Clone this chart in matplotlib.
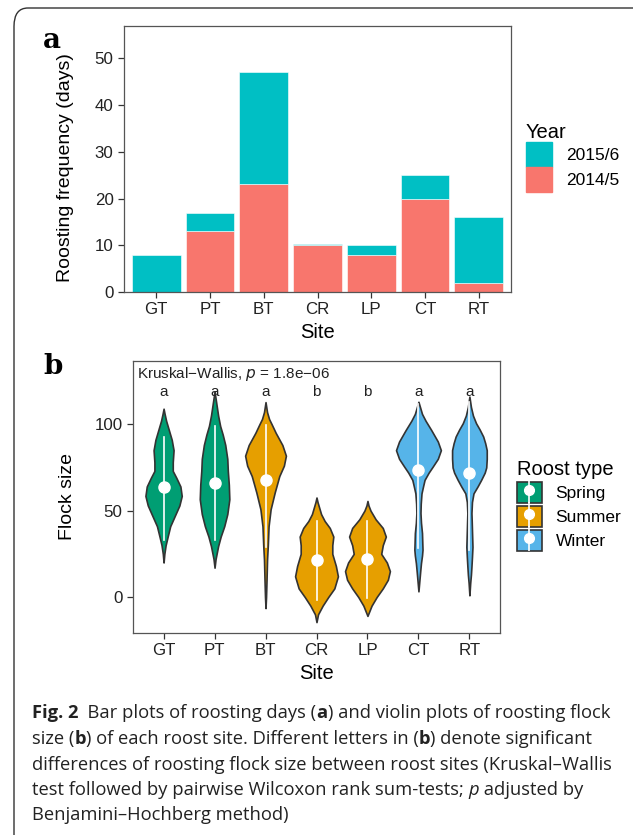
import matplotlib
matplotlib.use('Agg')
import matplotlib.pyplot as plt
from matplotlib.patches import FancyBboxPatch, Patch
from matplotlib.lines import Line2D
from matplotlib.legend_handler import HandlerTuple

plt.rcParams['font.family'] = ['Liberation Sans', 'DejaVu Sans']

# ---- panel a data: roosting days per site ----
sites = ['GT', 'PT', 'BT', 'CR', 'LP', 'CT', 'RT']
days_2014 = [0, 13, 23, 10, 8, 20, 2]
days_2015 = [8, 4, 24, 0.3, 2, 5, 14]

# ---- panel b data: violin outlines (flock size, half width) ----
roost_type = ['Spring', 'Spring', 'Summer', 'Summer', 'Summer', 'Winter', 'Winter']
GT_y = [20, 25, 30, 35, 41, 47, 53, 58.5, 64, 69, 73, 78, 85, 91, 97, 102, 106, 109]
GT_w = [0, .015, .04, .08, .13, .22, .31, .356, .33, .25, .18, .18, .196, .16, .10, .05, .02, 0]
PT_y = [17, 22, 29.5, 35, 41, 48, 56.6, 65, 73, 80, 88, 94, 99, 105, 111, 116, 118.6]
PT_w = [0, .02, .07, .12, .19, .25, .29, .28, .26, .25, .21, .16, .11, .07, .04, .015, 0]
BT_y = [-6.4, 0, 10, 21.7, 30, 41, 50.8, 60.5, 70, 76, 81.8, 88, 95, 100, 103, 107, 112.8]
BT_w = [0, .01, .02, .03, .045, .06, .1, .18, .27, .36, .40, .33, .2, .12, .07, .03, 0]
CR_y = [-14.5, -10, -5, 0, 5, 12, 18, 25, 30, 35, 40, 44, 48, 52, 55, 57.6]
CR_w = [0, .03, .12, .23, .35, .42, .38, .31, .31, .33, .26, .16, .09, .05, .02, 0]
LP_y = [-10.9, -5, 0, 5, 10, 15, 20, 25, 30, 35, 40, 45, 50, 53, 55.6]
LP_w = [0, .08, .18, .30, .40, .44, .38, .27, .30, .36, .30, .16, .06, .02, 0]
CT_y = [3.3, 10, 15, 19.7, 24, 27.4, 32, 37, 43, 48.6, 54, 60, 64, 67.8, 72, 75.5, 80, 85, 90, 96.7, 102, 106, 110, 113]
CT_w = [0, .02, .035, .05, .07, .08, .075, .07, .05, .04, .045, .06, .09, .12, .2, .28, .38, .44, .38, .25, .14, .07, .03, 0]
RT_y = [1, 8, 13, 17.7, 23, 29, 34, 39, 44, 48.6, 55, 60, 64, 67.8, 72, 75, 80, 85, 89, 92.9, 97, 100.6, 105, 110, 116]
RT_w = [0, .015, .03, .04, .05, .06, .055, .05, .045, .04, .05, .08, .16, .23, .3, .33, .34, .34, .31, .27, .2, .13, .07, .03, 0]
violin_y = [GT_y, PT_y, BT_y, CR_y, LP_y, CT_y, RT_y]
violin_w = [GT_w, PT_w, BT_w, CR_w, LP_w, CT_w, RT_w]
medians = [63.4, 65.9, 67.6, 21.4, 22.0, 73.6, 71.5]
line_lo = [33.1, 33.0, 28.9, -1.5, -0.6, 28.3, 27.4]
line_hi = [92.9, 98.7, 99.6, 44.1, 44.1, 112, 113]
letters = ['a', 'a', 'a', 'b', 'b', 'a', 'a']

c2014 = '#F8766D'
c2015 = '#00BFC4'
type_colors = {'Spring': '#009E73', 'Summer': '#E69F00', 'Winter': '#56B4E9'}

W, H = 633, 835
fig = plt.figure(figsize=(W / 100, H / 100), dpi=100)

def px_axes(l, t, r, b):
    return fig.add_axes([l / W, 1 - b / H, (r - l) / W, (b - t) / H])

# rounded frame around figure
fig.patches.append(FancyBboxPatch((14 / W, -0.05), 1.2, 1 - 8 / H + 0.05,
                                  boxstyle='round,pad=0,rounding_size=0.022',
                                  transform=fig.transFigure, fill=False,
                                  edgecolor='#333333', linewidth=1.0))

def style_axes(ax):
    for s in ax.spines.values():
        s.set_color('#555555')
        s.set_linewidth(0.9)
    ax.tick_params(colors='#333333', length=4, width=0.9, labelsize=12.2, labelcolor='#222222')

# ---- panel a ----
ax1 = px_axes(124, 26, 511, 292)
x = list(range(len(sites)))
ax1.bar(x, days_2014, width=0.91, color=c2014, edgecolor='white', linewidth=0.4)
ax1.bar(x, days_2015, bottom=days_2014, width=0.91, color=c2015, edgecolor='white', linewidth=0.4)
ax1.set_xlim(-0.6, 6.6)
ax1.set_ylim(0, 56.9)
ax1.set_xticks(x)
ax1.set_xticklabels(sites)
ax1.set_yticks([0, 10, 20, 30, 40, 50])
ax1.set_xlabel('Site', fontsize=14.5, labelpad=4)
ax1.set_ylabel('Roosting frequency (days)', fontsize=14)
ax1.yaxis.set_label_coords(-0.13, 0.466)
style_axes(ax1)
leg1 = ax1.legend(handles=[Patch(color=c2015, label='2015/6'), Patch(color=c2014, label='2014/5')],
                  title='Year', loc='upper left', bbox_to_anchor=(1.038, 0.637),
                  frameon=False, fontsize=12.5, title_fontsize=14.5, handlelength=1.5,
                  handleheight=1.85, handletextpad=0.8, labelspacing=0.0, borderaxespad=0,
                  borderpad=0)
leg1._legend_box.align = 'left'
fig.text(43 / W, 1 - 40 / H, 'a', fontsize=20, fontweight='bold', family='DejaVu Serif', va='center')

# ---- panel b ----
ax2 = px_axes(133, 361, 500, 633)
for i in range(len(sites)):
    yy = violin_y[i]
    ww = violin_w[i]
    ax2.fill_betweenx(yy, [i - w for w in ww], [i + w for w in ww],
                      facecolor=type_colors[roost_type[i]], edgecolor='#333333',
                      linewidth=1.2, joinstyle='round')
    ax2.plot([i, i], [line_lo[i], line_hi[i]], color='white', linewidth=1.2)
    ax2.plot(i, medians[i], 'o', color='white', markersize=8)
    ax2.text(i, 118.9, letters[i], ha='center', va='center', fontsize=11, color='#222222')
ax2.text(0.01, 0.985, 'Kruskal\u2212Wallis, $\\it{p}$ = 1.8e\u221206', transform=ax2.transAxes,
         ha='left', va='top', fontsize=11, color='#222222')
ax2.set_xlim(-0.6, 6.6)
ax2.set_ylim(-20.8, 136.6)
ax2.set_xticks(x)
ax2.set_xticklabels(sites)
ax2.set_yticks([0, 50, 100])
ax2.set_xlabel('Site', fontsize=14.5, labelpad=4)
ax2.set_ylabel('Flock size', fontsize=14)
ax2.yaxis.set_label_coords(-0.156, 0.5)
style_axes(ax2)

handles = []
for t in ['Spring', 'Summer', 'Winter']:
    p = Patch(facecolor=type_colors[t], edgecolor='#333333', linewidth=1.2)
    vl = Line2D([], [], marker='|', markersize=18, markeredgewidth=1.2, color='white', linestyle='None')
    dt = Line2D([], [], marker='o', markersize=7, color='white', linestyle='None')
    handles.append((p, vl, dt))
leg2 = ax2.legend(handles=handles, labels=['Spring', 'Summer', 'Winter'], title='Roost type',
                  handler_map={tuple: HandlerTuple(ndivide=1, pad=0)},
                  loc='upper left', bbox_to_anchor=(1.045, 0.635), frameon=False,
                  fontsize=12.5, title_fontsize=14.5, handlelength=1.45, handleheight=1.45,
                  handletextpad=0.8, labelspacing=0.18, borderaxespad=0, borderpad=0)
leg2._legend_box.align = 'left'
fig.text(43 / W, 1 - 366 / H, 'b', fontsize=20, fontweight='bold', family='DejaVu Serif', va='center')

# ---- caption ----
cap_font = 'Open Sans'
cap_size = 13.2
caption = [
    [('Fig. 2', 'bold', 'normal'), ('  Bar plots of roosting days (', 'normal', 'normal'), ('a', 'bold', 'normal'),
     (') and violin plots of roosting flock', 'normal', 'normal')],
    [('size (', 'normal', 'normal'), ('b', 'bold', 'normal'),
     (') of each roost site. Different letters in (', 'normal', 'normal'), ('b', 'bold', 'normal'),
     (') denote significant', 'normal', 'normal')],
    [('differences of roosting flock size between roost sites (Kruskal\u2013Wallis', 'normal', 'normal')],
    [('test followed by pairwise Wilcoxon rank sum-tests; ', 'normal', 'normal'), ('p', 'normal', 'italic'),
     (' adjusted by', 'normal', 'normal')],
    [('Benjamini\u2013Hochberg method)', 'normal', 'normal')],
]
cap_y = [713, 739, 765, 790, 815]
fig.canvas.draw()
renderer = fig.canvas.get_renderer()
for line, yc in zip(caption, cap_y):
    xp = 32
    for txt, wt, st in line:
        t = fig.text(xp / W, 1 - yc / H, txt, fontsize=cap_size, family=cap_font, fontweight=wt,
                     style=st, va='center', ha='left', color='#222222')
        bb = t.get_window_extent(renderer=renderer)
        xp += bb.width

fig.savefig('out.png', dpi=100)
